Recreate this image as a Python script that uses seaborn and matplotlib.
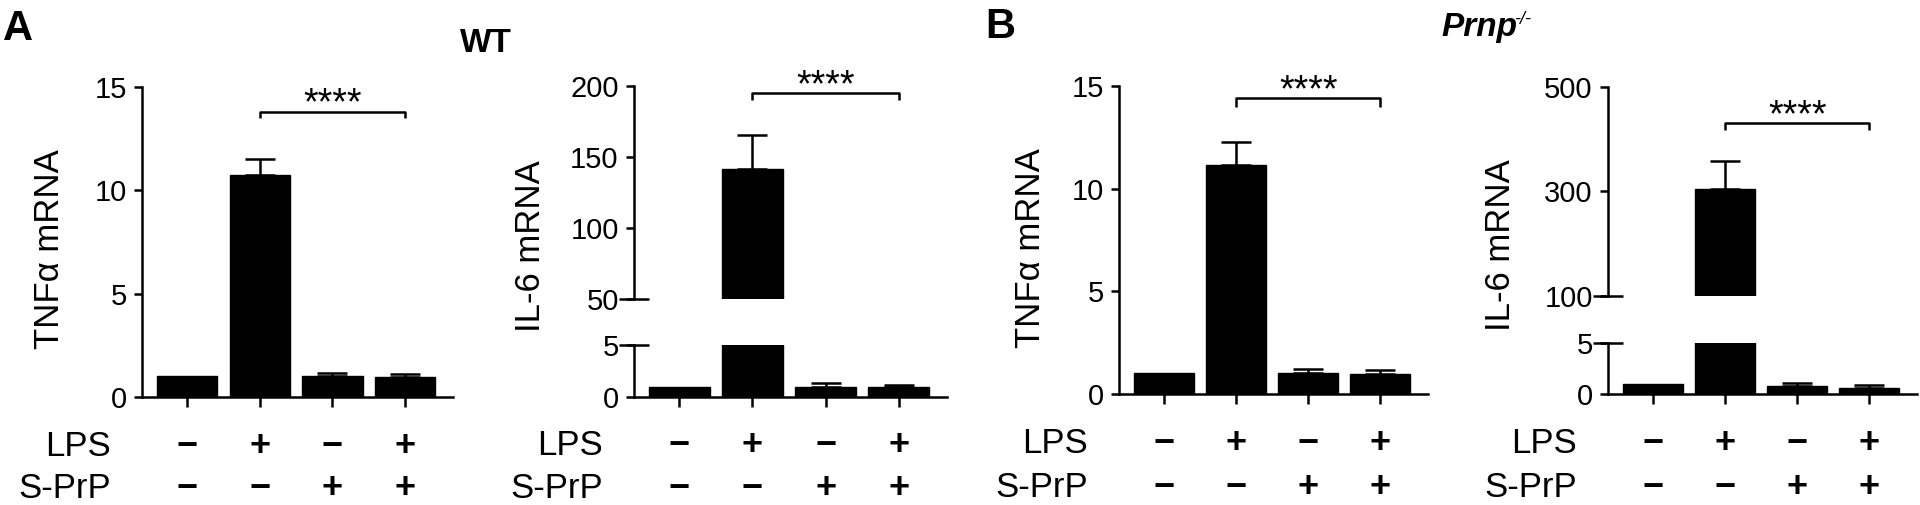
"""Cytokine mRNA after LPS / S-PrP treatment, WT vs Prnp-/- (bar charts, broken axes for IL-6)."""
import matplotlib
matplotlib.use("Agg")
import matplotlib.pyplot as plt
import matplotlib.transforms as mtransforms
import pandas as pd
import seaborn as sns

# ---------------------------------------------------------------------------
# Data
# ---------------------------------------------------------------------------
CONDITIONS = ["ctrl", "LPS", "S-PrP", "LPS+S-PrP"]
LPS_SIGNS = ["\u2212", "+", "\u2212", "+"]
SPRP_SIGNS = ["\u2212", "\u2212", "+", "+"]

TNF_WT = [1.0, 10.75, 1.03, 0.98]
TNF_WT_ERR = [0.0, 0.75, 0.15, 0.15]
IL6_WT = [1.0, 141.5, 1.0, 0.97]
IL6_WT_ERR = [0.0, 24.0, 0.35, 0.2]
TNF_KO = [1.0, 11.17, 1.0, 0.98]
TNF_KO_ERR = [0.0, 1.1, 0.2, 0.17]
IL6_KO = [1.0, 305.0, 0.8, 0.6]
IL6_KO_ERR = [0.0, 54.0, 0.28, 0.27]

TNF_TICKS = [0, 5, 10, 15]
IL6_LOWER_TICKS = [0, 5]
IL6_WT_UPPER_TICKS = [50, 100, 150, 200]
IL6_KO_UPPER_TICKS = [100, 300, 500]

SIG_LABEL = "****"
SIG_PAIR = (1, 3)

# ---------------------------------------------------------------------------
# Layout (pixels of the 1920x505 output)
# ---------------------------------------------------------------------------
W, H = 1920, 505
LW = 1.8
XLIM = (-0.62, 3.66)


def rect(left, right, top, bottom):
    return [left / W, 1 - bottom / H, (right - left) / W, (bottom - top) / H]


def style_axis(ax, show_x=True):
    sns.despine(ax=ax, bottom=not show_x)
    for side in ("left", "bottom"):
        ax.spines[side].set_linewidth(LW)
        ax.spines[side].set_color("black")
    ax.tick_params(axis="y", direction="out", length=6, width=LW,
                   labelsize=21, pad=5, color="black")
    ax.tick_params(axis="x", direction="out", length=7, width=LW,
                   labelbottom=False, bottom=show_x, color="black")
    ax.set_xlabel("")
    ax.set_ylabel("")
    ax.set_xlim(*XLIM)


def draw_bars(ax, values, errors):
    df = pd.DataFrame({"cond": CONDITIONS, "value": values})
    sns.barplot(data=df, x="cond", y="value", order=CONDITIONS, color="black",
                saturation=1, width=0.83, edgecolor="black", linewidth=1,
                errorbar=None, ax=ax)
    idx = [i for i, e in enumerate(errors) if e > 0]
    ax.errorbar(idx, [values[i] for i in idx],
                yerr=[[0] * len(idx), [errors[i] for i in idx]],
                fmt="none", ecolor="black", elinewidth=LW,
                capsize=10.8, capthick=LW)


def bracket(ax, y, drop):
    x1, x2 = SIG_PAIR
    ax.plot([x1, x1, x2, x2], [y - drop, y, y, y - drop], color="black",
            lw=LW, clip_on=False, solid_capstyle="butt")
    ax.annotate(SIG_LABEL, xy=((x1 + x2) / 2, y), xytext=(0, -2),
                textcoords="offset points", ha="center", va="baseline",
                fontsize=27)


def sign_rows(fig, ax, axis_px, rows_px):
    trans = mtransforms.blended_transform_factory(ax.transData, fig.transFigure)
    for label, signs, ypx in zip(["LPS", "S-PrP"], [LPS_SIGNS, SPRP_SIGNS], rows_px):
        fig.text((axis_px - 31) / W, 1 - ypx / H, label, ha="right",
                 va="baseline", fontsize=25)
        for i, s in enumerate(signs):
            ax.text(i, 1 - ypx / H, s, transform=trans, ha="center",
                    va="baseline", fontsize=26, fontweight="bold")


def break_marks(ax, y_axes, axis_width_px):
    d = 15 / axis_width_px
    ax.plot([-d, d], [y_axes, y_axes], transform=ax.transAxes, color="black",
            lw=LW, clip_on=False, solid_capstyle="butt")


def simple_panel(fig, box, values, errors, ylim, ticks, sig, rows, ylabel, ylabel_px):
    ax = fig.add_axes(rect(*box))
    draw_bars(ax, values, errors)
    ax.set_ylim(*ylim)
    ax.set_yticks(ticks)
    style_axis(ax)
    bracket(ax, *sig)
    sign_rows(fig, ax, box[0], rows)
    fig.text(ylabel_px[0] / W, 1 - ylabel_px[1] / H, ylabel, rotation=90,
             ha="center", va="center", fontsize=25)
    return ax


def broken_panel(fig, box_up, box_lo, values, errors, ylim_up, ticks_up,
                 sig, rows, ylabel, ylabel_px):
    ax_up = fig.add_axes(rect(*box_up))
    ax_lo = fig.add_axes(rect(*box_lo))
    for ax in (ax_up, ax_lo):
        draw_bars(ax, values, errors)
    ax_up.set_ylim(*ylim_up)
    ax_up.set_yticks(ticks_up)
    ax_lo.set_ylim(0, 5)
    ax_lo.set_yticks(IL6_LOWER_TICKS)
    style_axis(ax_up, show_x=False)
    style_axis(ax_lo)
    width_px = box_up[1] - box_up[0]
    break_marks(ax_up, 0, width_px)
    break_marks(ax_lo, 1, width_px)
    bracket(ax_up, *sig)
    sign_rows(fig, ax_lo, box_lo[0], rows)
    fig.text(ylabel_px[0] / W, 1 - ylabel_px[1] / H, ylabel, rotation=90,
             ha="center", va="center", fontsize=25)
    return ax_up, ax_lo


def main():
    sns.set_theme(style="ticks")
    plt.rcParams["font.family"] = ["Liberation Sans", "DejaVu Sans"]
    plt.rcParams["text.color"] = "black"
    plt.rcParams["ytick.labelcolor"] = "black"

    fig = plt.figure(figsize=(W / 100, H / 100), dpi=100)

    simple_panel(fig, (142, 453, 87, 397), TNF_WT, TNF_WT_ERR, (0, 15),
                 TNF_TICKS, (13.8, 0.3), (456, 498), "TNF\u03b1 mRNA", (50, 249))
    broken_panel(fig, (634, 947, 86, 299), (634, 947, 345, 397), IL6_WT,
                 IL6_WT_ERR, (50, 200), IL6_WT_UPPER_TICKS, (195, 5),
                 (455, 498), "IL-6 mRNA", (530, 246))
    simple_panel(fig, (1119, 1428, 86, 394), TNF_KO, TNF_KO_ERR, (0, 15),
                 TNF_TICKS, (14.4, 0.4), (453, 497), "TNF\u03b1 mRNA", (1030, 248))
    broken_panel(fig, (1608, 1917, 87, 296), (1608, 1917, 343, 394), IL6_KO,
                 IL6_KO_ERR, (100, 500), IL6_KO_UPPER_TICKS, (431, 13),
                 (453, 497), "IL-6 mRNA", (1501, 245))

    fig.text(3 / W, 1 - 40 / H, "A", fontsize=30, fontweight="bold", va="baseline")
    fig.text(985 / W, 1 - 38 / H, "B", fontsize=30, fontweight="bold", va="baseline")
    fig.text(486 / W, 1 - 52 / H, "WT", ha="center", va="baseline",
             fontsize=24, fontweight="bold")
    fig.text(1441 / W, 1 - 36 / H, "Prnp", va="baseline", fontsize=24,
             fontweight="bold", fontstyle="italic")
    fig.text(1514 / W, 1 - 24 / H, "-/-", va="baseline", fontsize=13,
             fontstyle="italic")

    fig.savefig("out.png", dpi=100)
    plt.close(fig)


if __name__ == "__main__":
    main()
